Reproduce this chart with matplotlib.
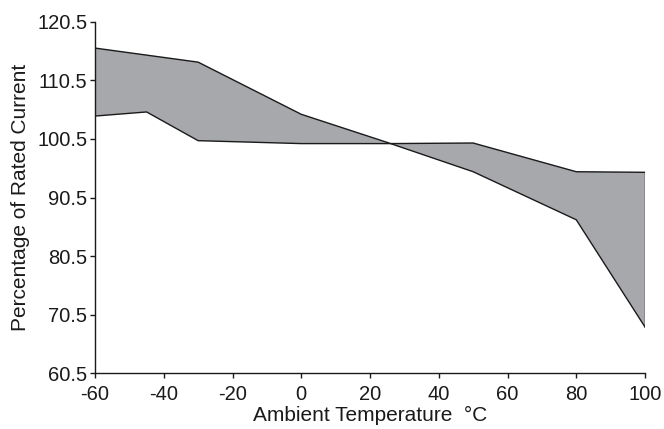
import matplotlib
matplotlib.use("Agg")
import matplotlib.pyplot as plt

plt.rcParams['font.family'] = ['Liberation Sans', 'DejaVu Sans']
plt.rcParams['axes.unicode_minus'] = False

temps = [-60, -45, -30, 0, 25, 50, 80, 100]
curve_a = [116.0, 114.8, 113.6, 104.7, 99.9, 94.9, 86.7, 68.4]
curve_b = [104.4, 105.1, 100.2, 99.7, 99.7, 99.8, 94.9, 94.8]
x_ticks = [-60, -40, -20, 0, 20, 40, 60, 80, 100]
y_ticks = [60.5, 70.5, 80.5, 90.5, 100.5, 110.5, 120.5]

fig = plt.figure(figsize=(6.64, 4.29), dpi=100)
ax = fig.add_axes([0.1431, 0.1298, 0.8283, 0.8196])

ax.fill_between(temps, curve_a, curve_b, facecolor='#a7a8ab', edgecolor='none')
ax.plot(temps, curve_a, color='#1a1a1a', lw=1.0)
ax.plot(temps, curve_b, color='#1a1a1a', lw=1.0)
ax.plot([temps[-1], temps[-1]], [curve_a[-1], curve_b[-1]], color='#1a1a1a', lw=1.0)

ax.set_xlim(-60, 100)
ax.set_ylim(60.5, 120.5)
ax.set_xticks(x_ticks)
ax.set_xticklabels([str(t) for t in x_ticks])
ax.set_yticks(y_ticks)
ax.set_yticklabels([f"{t:.1f}" for t in y_ticks])

for s in ['top', 'right']:
    ax.spines[s].set_visible(False)
for s in ['left', 'bottom']:
    ax.spines[s].set_linewidth(1.0)
    ax.spines[s].set_color('#1a1a1a')

ax.tick_params(axis='both', direction='out', length=3.6, width=1.0, color='#1a1a1a',
               labelsize=14.5, labelcolor='#1a1a1a')
ax.tick_params(axis='x', pad=4.5)
ax.tick_params(axis='y', pad=2)

ax.set_xlabel('Ambient Temperature  \u00b0C', fontsize=15, color='#1a1a1a', labelpad=1.5)
ax.set_ylabel('Percentage of Rated Current', fontsize=15, color='#1a1a1a', labelpad=5)

fig.savefig('out.png', dpi=100)
